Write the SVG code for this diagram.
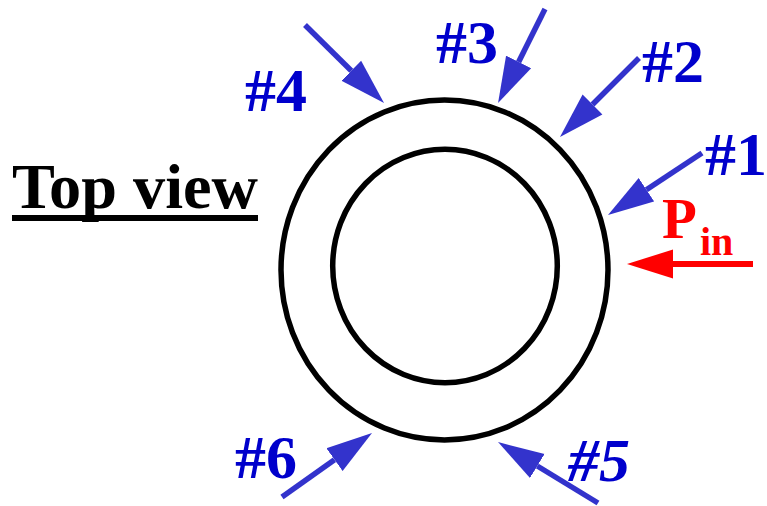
<svg xmlns="http://www.w3.org/2000/svg" width="767" height="506" viewBox="0 0 767 506">
<defs>
<style>
.ring{fill:none;stroke:#000;stroke-width:5.5}
.shaft{stroke:#3333CC;stroke-width:5.5;fill:none}
.red{stroke:#FF0000;stroke-width:6;fill:none}
.lbl{font-family:"Liberation Serif","Times New Roman",serif;font-weight:bold;font-size:62px;fill:#0000CC}
.title{font-family:"Liberation Serif","Times New Roman",serif;font-weight:bold;font-size:63px;fill:#000}
.pin{font-family:"Liberation Serif","Times New Roman",serif;font-weight:bold;fill:#FF0000}
</style>
<marker id="hb" viewBox="0 -15 46 30" refX="0" refY="0" markerUnits="userSpaceOnUse" markerWidth="46" markerHeight="30" orient="auto">
<path d="M0,-14 L46,0 L0,14 z" fill="#3333CC"/>
</marker>
<marker id="hr" viewBox="0 -15 46 30" refX="0" refY="0" markerUnits="userSpaceOnUse" markerWidth="46" markerHeight="30" orient="auto">
<path d="M0,-14.5 L46,0 L0,14.5 z" fill="#FF0000"/>
</marker>
</defs>
<rect width="767" height="506" fill="#fff"/>
<g id="title">
<text class="title" x="12" y="208" textLength="246" lengthAdjust="spacingAndGlyphs">Top view</text>
<rect x="12" y="215" width="246" height="6" fill="#000"/>
</g>
<g id="ring-outer"><ellipse class="ring" cx="444.5" cy="270" rx="163.5" ry="170"/></g>
<g id="ring-inner"><ellipse class="ring" cx="445" cy="266" rx="112.3" ry="116.7"/></g>
<g id="connectors">
<line class="shaft" x1="305" y1="25" x2="351.3" y2="70.7" marker-end="url(#hb)"/>
<line class="shaft" x1="545" y1="9" x2="518.6" y2="61.9" marker-end="url(#hb)"/>
<line class="shaft" x1="639" y1="58" x2="592.5" y2="104.5" marker-end="url(#hb)"/>
<line class="shaft" x1="702" y1="153" x2="646.4" y2="189.7" marker-end="url(#hb)"/>
<line class="shaft" x1="282" y1="497" x2="334.5" y2="459.7" marker-end="url(#hb)"/>
<line class="shaft" x1="598" y1="503" x2="537.3" y2="466" marker-end="url(#hb)"/>
<line class="red" x1="753" y1="264" x2="673" y2="264" marker-end="url(#hr)"/>
</g>
<g id="label-4"><text class="lbl" x="245" y="111">#4</text></g>
<g id="label-3"><text class="lbl" x="436" y="63">#3</text></g>
<g id="label-2"><text class="lbl" x="642" y="82">#2</text></g>
<g id="label-1"><text class="lbl" x="705" y="175">#1</text></g>
<g id="label-6"><text class="lbl" x="235" y="478">#6</text></g>
<g id="label-5"><text class="lbl" x="568" y="481" font-style="italic">#5</text></g>
<g id="label-pin"><text class="pin" x="662" y="238" font-size="57">P</text><text class="pin" x="700" y="255" font-size="40">in</text></g>
</svg>
